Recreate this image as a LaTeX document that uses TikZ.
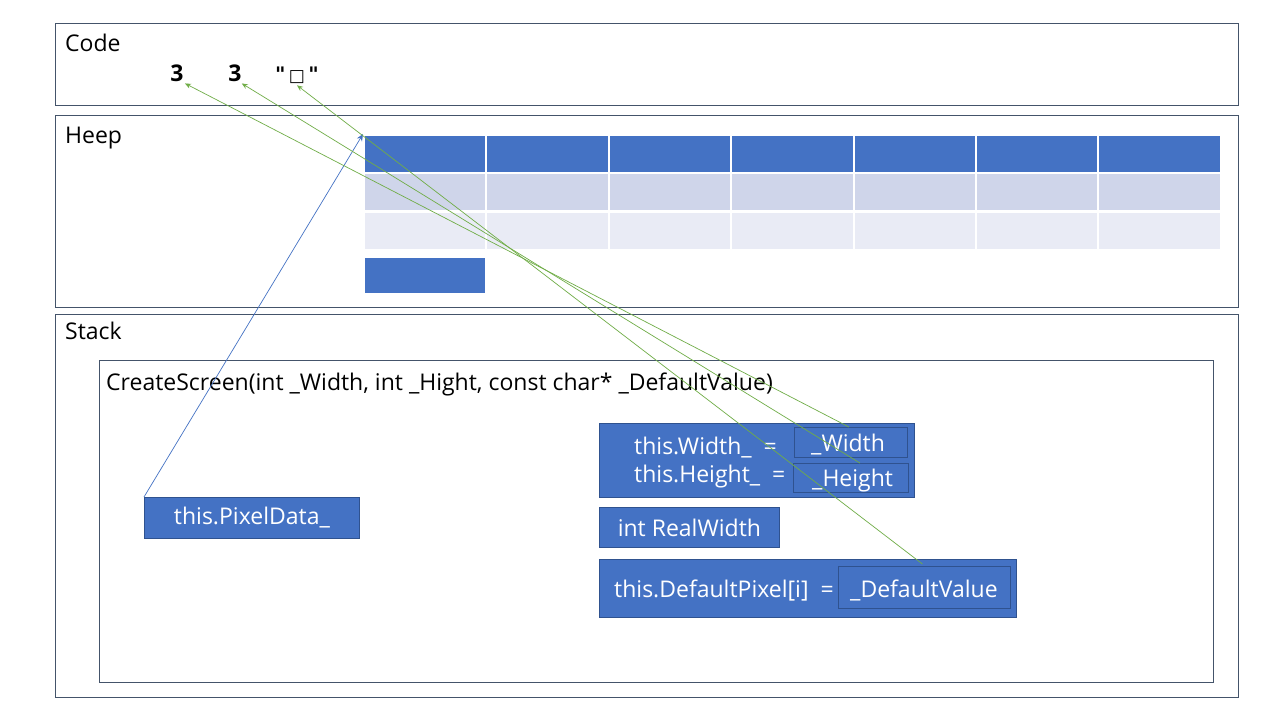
\documentclass[tikz,border=0pt]{standalone}
\usepackage{fontspec}
\setmainfont{Open Sans}
\newfontfamily\symfont{DejaVu Sans}
\usetikzlibrary{arrows.meta}
\definecolor{mblue}{HTML}{4472C4}
\definecolor{mborder}{HTML}{2F528F}
\definecolor{frame}{HTML}{44546A}
\definecolor{rowA}{HTML}{CFD5EA}
\definecolor{rowB}{HTML}{E9EBF5}
\definecolor{mgreen}{HTML}{70AD47}
\tikzset{
  area/.style={draw=frame, line width=0.8pt, anchor=north west, inner sep=0pt},
  bluebox/.style={draw=mborder, fill=mblue, line width=0.8pt, anchor=north west, inner sep=0pt, text=white, font=\fontsize{23}{27}\selectfont},
  innerbox/.style={draw=mborder, line width=0.8pt, inner sep=0pt, text=white, font=\fontsize{23}{27}\selectfont},
  wtext/.style={anchor=base west, inner sep=0pt, text=white, font=\fontsize{23}{27}\selectfont},
  cell/.style={fill=#1, draw=white, line width=2pt, anchor=north west, minimum width=122.4pt, minimum height=38pt, inner sep=0pt},
  lbl/.style={anchor=base west, inner sep=0pt, font=\fontsize{23}{27}\selectfont},
  val/.style={anchor=base, inner sep=0pt, font=\fontsize{23}{27}\selectfont\bfseries},
  garrow/.style={draw=mgreen, line width=0.7pt, -{Stealth[length=6pt,width=5pt]}},
  barrow/.style={draw=mblue, line width=0.7pt, -{Stealth[length=7pt,width=6pt]}}
}
\begin{document}
\begin{tikzpicture}[x=1pt,y=-1pt]
\useasboundingbox (0,0) rectangle (1280,720);
\fill[white] (0,0) rectangle (1280,720);
% areas
\node[area, minimum width=1183pt, minimum height=82pt] (code) at (55,23) {};
\node[area, minimum width=1183pt, minimum height=192pt] (heap) at (55,115) {};
\node[area, minimum width=1183pt, minimum height=383pt] (stack) at (55,314) {};
\node[area, minimum width=1114pt, minimum height=322pt] (func) at (99,360) {};
\node[lbl] (codelbl) at (65,51) {Code};
\node[lbl] (heaplbl) at (65,143) {Heep};
\node[lbl] (stacklbl) at (65,339) {Stack};
\node[lbl] (funclbl) at (106,390) {CreateScreen(int \_Width, int \_Hight, const char* \_DefaultValue)};
% code values
\node[val] (v1) at (177,81) {3};
\node[val] (v2) at (235,81) {3};
\node[val, font=\symfont\fontsize{20}{24}\selectfont\bfseries] (v3) at (297,81) {"\,{\fontsize{17}{18}\selectfont □}\,"};
% heap table
\foreach \i in {1,...,7} {
  \node[cell=mblue] (c\i) at ({363+(\i-1)*122.4},134) {};
  \node[cell=rowA] (d\i) at ({363+(\i-1)*122.4},172) {};
  \node[cell=rowB] (e\i) at ({363+(\i-1)*122.4},211) {};
}
\node[cell=mblue, minimum width=122pt, minimum height=37pt] (small) at (363,255.5) {};
% stack boxes
\node[bluebox, minimum width=215pt, minimum height=41pt] (pd) at (144,497) {this.PixelData\_};
\node[bluebox, minimum width=315pt, minimum height=74pt] (wh) at (599,423) {};
\node[innerbox, anchor=north west, minimum width=113pt, minimum height=30pt] (wd) at (794,427) {};
\node[innerbox, anchor=north west, minimum width=115pt, minimum height=29pt] (hd) at (793,463) {};
\node[wtext] (wt) at (634,454) {this.Width\_ \ =};
\node[wtext] (ht) at (634,482) {this.Height\_ \ =};
\node[wtext] (wv) at (811,451) {\_Width};
\node[wtext] (hv) at (812,486) {\_Height};
\node[bluebox, minimum width=180pt, minimum height=40pt] (rw) at (599,507) {int RealWidth};
\node[bluebox, minimum width=417pt, minimum height=58pt] (dp) at (599,559) {};
\node[wtext] (dpt) at (614,597) {this.DefaultPixel[i] \ =};
\node[innerbox, anchor=north west, minimum width=172pt, minimum height=42pt] (dv) at (838,566) {};
\node[wtext] (dvt) at (850,597) {\_DefaultValue};
% connectors
\draw[barrow] (pd.north west) -- (c1.north west);
\draw[garrow] ([xshift=-2pt]wd.north) -- ([xshift=8pt,yshift=-2pt]v1.south);
\draw[garrow] ([xshift=9pt]hd.north) -- ([xshift=0pt,yshift=-2pt]v2.south east);
\draw[garrow] ([xshift=-2pt,yshift=2pt]dv.north) -- ([yshift=-2pt]v3.south);
\end{tikzpicture}
\end{document}
